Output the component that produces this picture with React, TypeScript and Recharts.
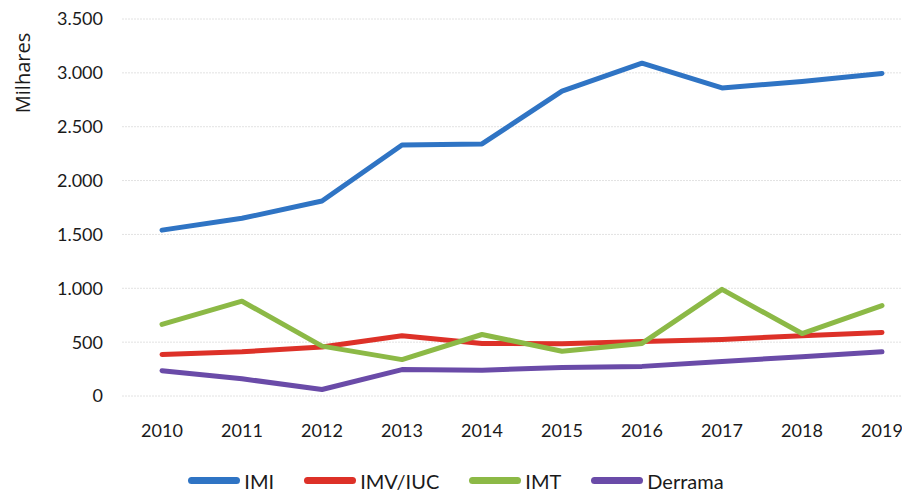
import { LineChart, Line, XAxis, YAxis, CartesianGrid, Legend } from 'recharts'

const years = ['2010', '2011', '2012', '2013', '2014', '2015', '2016', '2017', '2018', '2019']
const imi = [1540, 1650, 1810, 2330, 2340, 2830, 3090, 2860, 2920, 2995]
const imvIuc = [385, 410, 455, 560, 488, 485, 505, 525, 560, 590]
const imt = [665, 880, 463, 338, 571, 416, 488, 990, 580, 840]
const derrama = [235, 160, 60, 245, 240, 265, 275, 320, 365, 410]
const yTicks = [0, 500, 1000, 1500, 2000, 2500, 3000, 3500]

const series = [
  { key: 'IMI', color: '#2f74c4' },
  { key: 'IMV/IUC', color: '#dd3128' },
  { key: 'IMT', color: '#8cb946' },
  { key: 'Derrama', color: '#6a4ba8' },
]

const data = years.map((year, i) => ({
  year,
  IMI: imi[i],
  'IMV/IUC': imvIuc[i],
  IMT: imt[i],
  Derrama: derrama[i],
}))

const tickFont = { fontFamily: 'Lato', fontSize: 18, fill: '#1a1a1a' }

// thousands with a dot, like the original (3.500)
const fmt = (v: number) => String(v).replace(/\B(?=(\d{3})+(?!\d))/g, '.')

function LegendRow() {
  return (
    <div style={{ display: 'flex', justifyContent: 'center', alignItems: 'center', height: 35, paddingLeft: 20 }}>
      {series.map((s) => (
        <div key={s.key} style={{ display: 'flex', alignItems: 'center', marginRight: 30 }}>
          <div style={{ width: 52, height: 7, borderRadius: 4, background: s.color, marginRight: 4 }} />
          <span style={{ fontFamily: 'Lato', fontSize: 20, color: '#1a1a1a' }}>{s.key}</span>
        </div>
      ))}
    </div>
  )
}

export default function App() {
  return (
    <div style={{ margin: -8, width: 910, height: 498, overflow: 'hidden', background: '#fff' }}>
      <LineChart width={930} height={498} data={data} margin={{ top: 19, right: 8, left: 0, bottom: 0 }}>
        <CartesianGrid vertical={false} stroke="#e2e2e2" strokeDasharray="2 1" />
        <XAxis
          dataKey="year"
          height={67}
          padding={{ left: 40, right: 40 }}
          axisLine={false}
          tickLine={false}
          tickMargin={22}
          tick={tickFont}
        />
        <YAxis
          width={122}
          domain={[0, 3500]}
          ticks={yTicks}
          axisLine={false}
          tickLine={false}
          tickMargin={13}
          tickFormatter={fmt}
          tick={tickFont}
          label={{
            content: () => (
              <text
                x={22}
                y={73}
                transform="rotate(-90 22 73)"
                textAnchor="middle"
                dominantBaseline="central"
                style={{ fontFamily: 'Open Sans', fontSize: 20, fill: '#1a1a1a' }}
              >
                Milhares
              </text>
            ),
          }}
        />
        <Legend verticalAlign="bottom" height={35} content={() => <LegendRow />} />
        {series.map((s) => (
          <Line
            key={s.key}
            dataKey={s.key}
            stroke={s.color}
            strokeWidth={5}
            strokeLinejoin="round"
            strokeLinecap="round"
            dot={false}
            isAnimationActive={false}
          />
        ))}
      </LineChart>
    </div>
  )
}
